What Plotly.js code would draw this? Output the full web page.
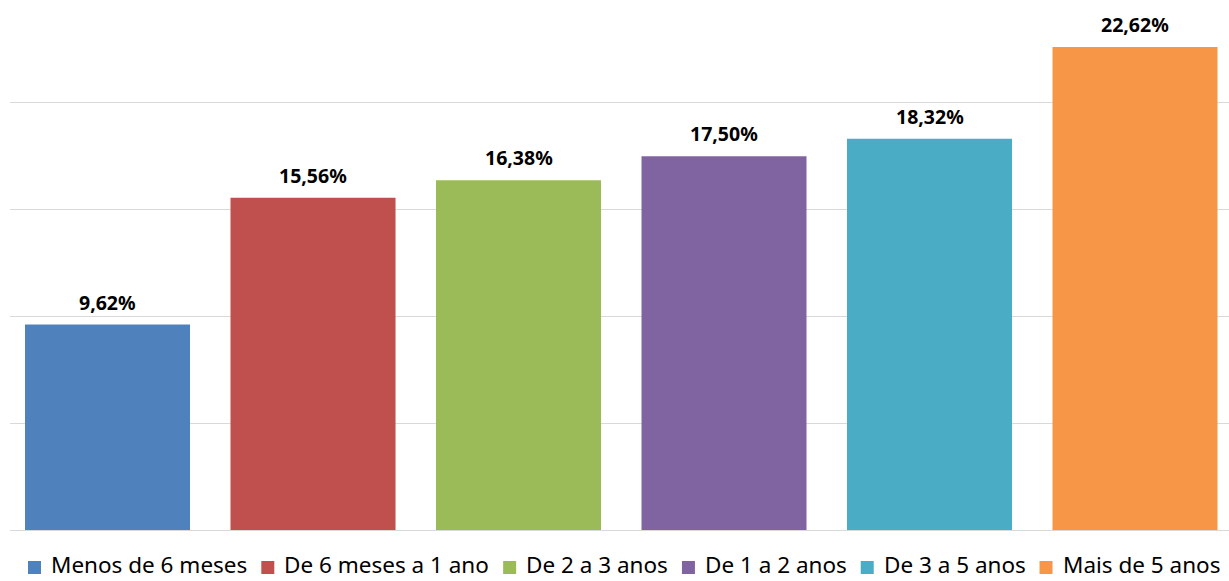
<!DOCTYPE html>
<html>
<head>
<meta charset="utf-8">
<script src="https://cdn.plot.ly/plotly-3.0.1.min.js"></script>
<style>html,body{margin:0;padding:0;background:#fff;}#chart{width:1229px;height:581px;}</style>
</head>
<body>
<div id="chart"></div>
<script>
const categories = ["Menos de 6 meses", "De 6 meses a 1 ano", "De 2 a 3 anos", "De 1 a 2 anos", "De 3 a 5 anos", "Mais de 5 anos"];
const values = [9.62, 15.56, 16.38, 17.50, 18.32, 22.62];
const colors = ["#4F81BD", "#C0504D", "#9BBB59", "#8064A2", "#4BACC6", "#F79646"];

const W = 1229, H = 581;
const M = {l: 10, r: 0, t: 0, b: 51};
const plotW = W - M.l - M.r, plotH = H - M.t - M.b;
const px2x = p => (p - M.l) / plotW;
const py2y = p => (plotH + M.t - p) / plotH;

const fmt = v => v.toFixed(2).replace('.', ',') + '%';
const FONT = 'Noto Sans, Open Sans, sans-serif';

const traces = categories.map((c, i) => ({
  type: 'bar',
  name: c,
  x: [c],
  y: [values[i]],
  width: 0.803,
  marker: {color: colors[i]},
  hoverinfo: 'skip',
  showlegend: false
}));

const annotations = categories.map((c, i) => ({
  x: c,
  y: values[i],
  xref: 'x', yref: 'y',
  text: '<b>' + fmt(values[i]) + '</b>',
  showarrow: false,
  yanchor: 'bottom',
  yshift: 7,
  font: {family: FONT, size: 19.5, color: '#000'}
}));

// legend drawn with shapes + annotations, laid out from measured text widths
const legSize = 22.5;
const ctx = document.createElement('canvas').getContext('2d');
ctx.font = legSize + "px 'Noto Sans'";
const sq = 13, gapSymText = 9, gapItems = 15;
const widths = categories.map(c => ctx.measureText(c).width);
const total = widths.reduce((a, w) => a + sq + gapSymText + w, 0) + gapItems * (categories.length - 1);
let cx = 623.5 - total / 2;
const shapes = [];
categories.forEach((c, i) => {
  shapes.push({
    type: 'rect', xref: 'paper', yref: 'paper',
    x0: px2x(cx), x1: px2x(cx + sq), y0: py2y(574), y1: py2y(561),
    fillcolor: colors[i], line: {width: 0}
  });
  annotations.push({
    xref: 'paper', yref: 'paper', x: px2x(cx + sq + gapSymText), y: py2y(564),
    xanchor: 'left', yanchor: 'middle', showarrow: false, borderpad: 0,
    text: c, font: {family: FONT, size: legSize, color: '#000'}
  });
  cx += sq + gapSymText + widths[i] + gapItems;
});

const layout = {
  width: W, height: H,
  margin: M,
  paper_bgcolor: '#fff', plot_bgcolor: '#fff',
  barmode: 'overlay',
  showlegend: false,
  xaxis: {
    type: 'category', categoryorder: 'array', categoryarray: categories,
    range: [-0.4745, 5.4574], showticklabels: false, ticks: '',
    showgrid: false, zeroline: false, showline: true, linecolor: '#d9d9d9', linewidth: 1
  },
  yaxis: {
    range: [0, 24.82], dtick: 5, showticklabels: false, ticks: '',
    showgrid: true, gridcolor: '#d9d9d9', gridwidth: 1, zeroline: false, showline: false
  },
  annotations: annotations,
  shapes: shapes
};

Plotly.newPlot('chart', traces, layout, {displayModeBar: false, staticPlot: true});
</script>
</body>
</html>
